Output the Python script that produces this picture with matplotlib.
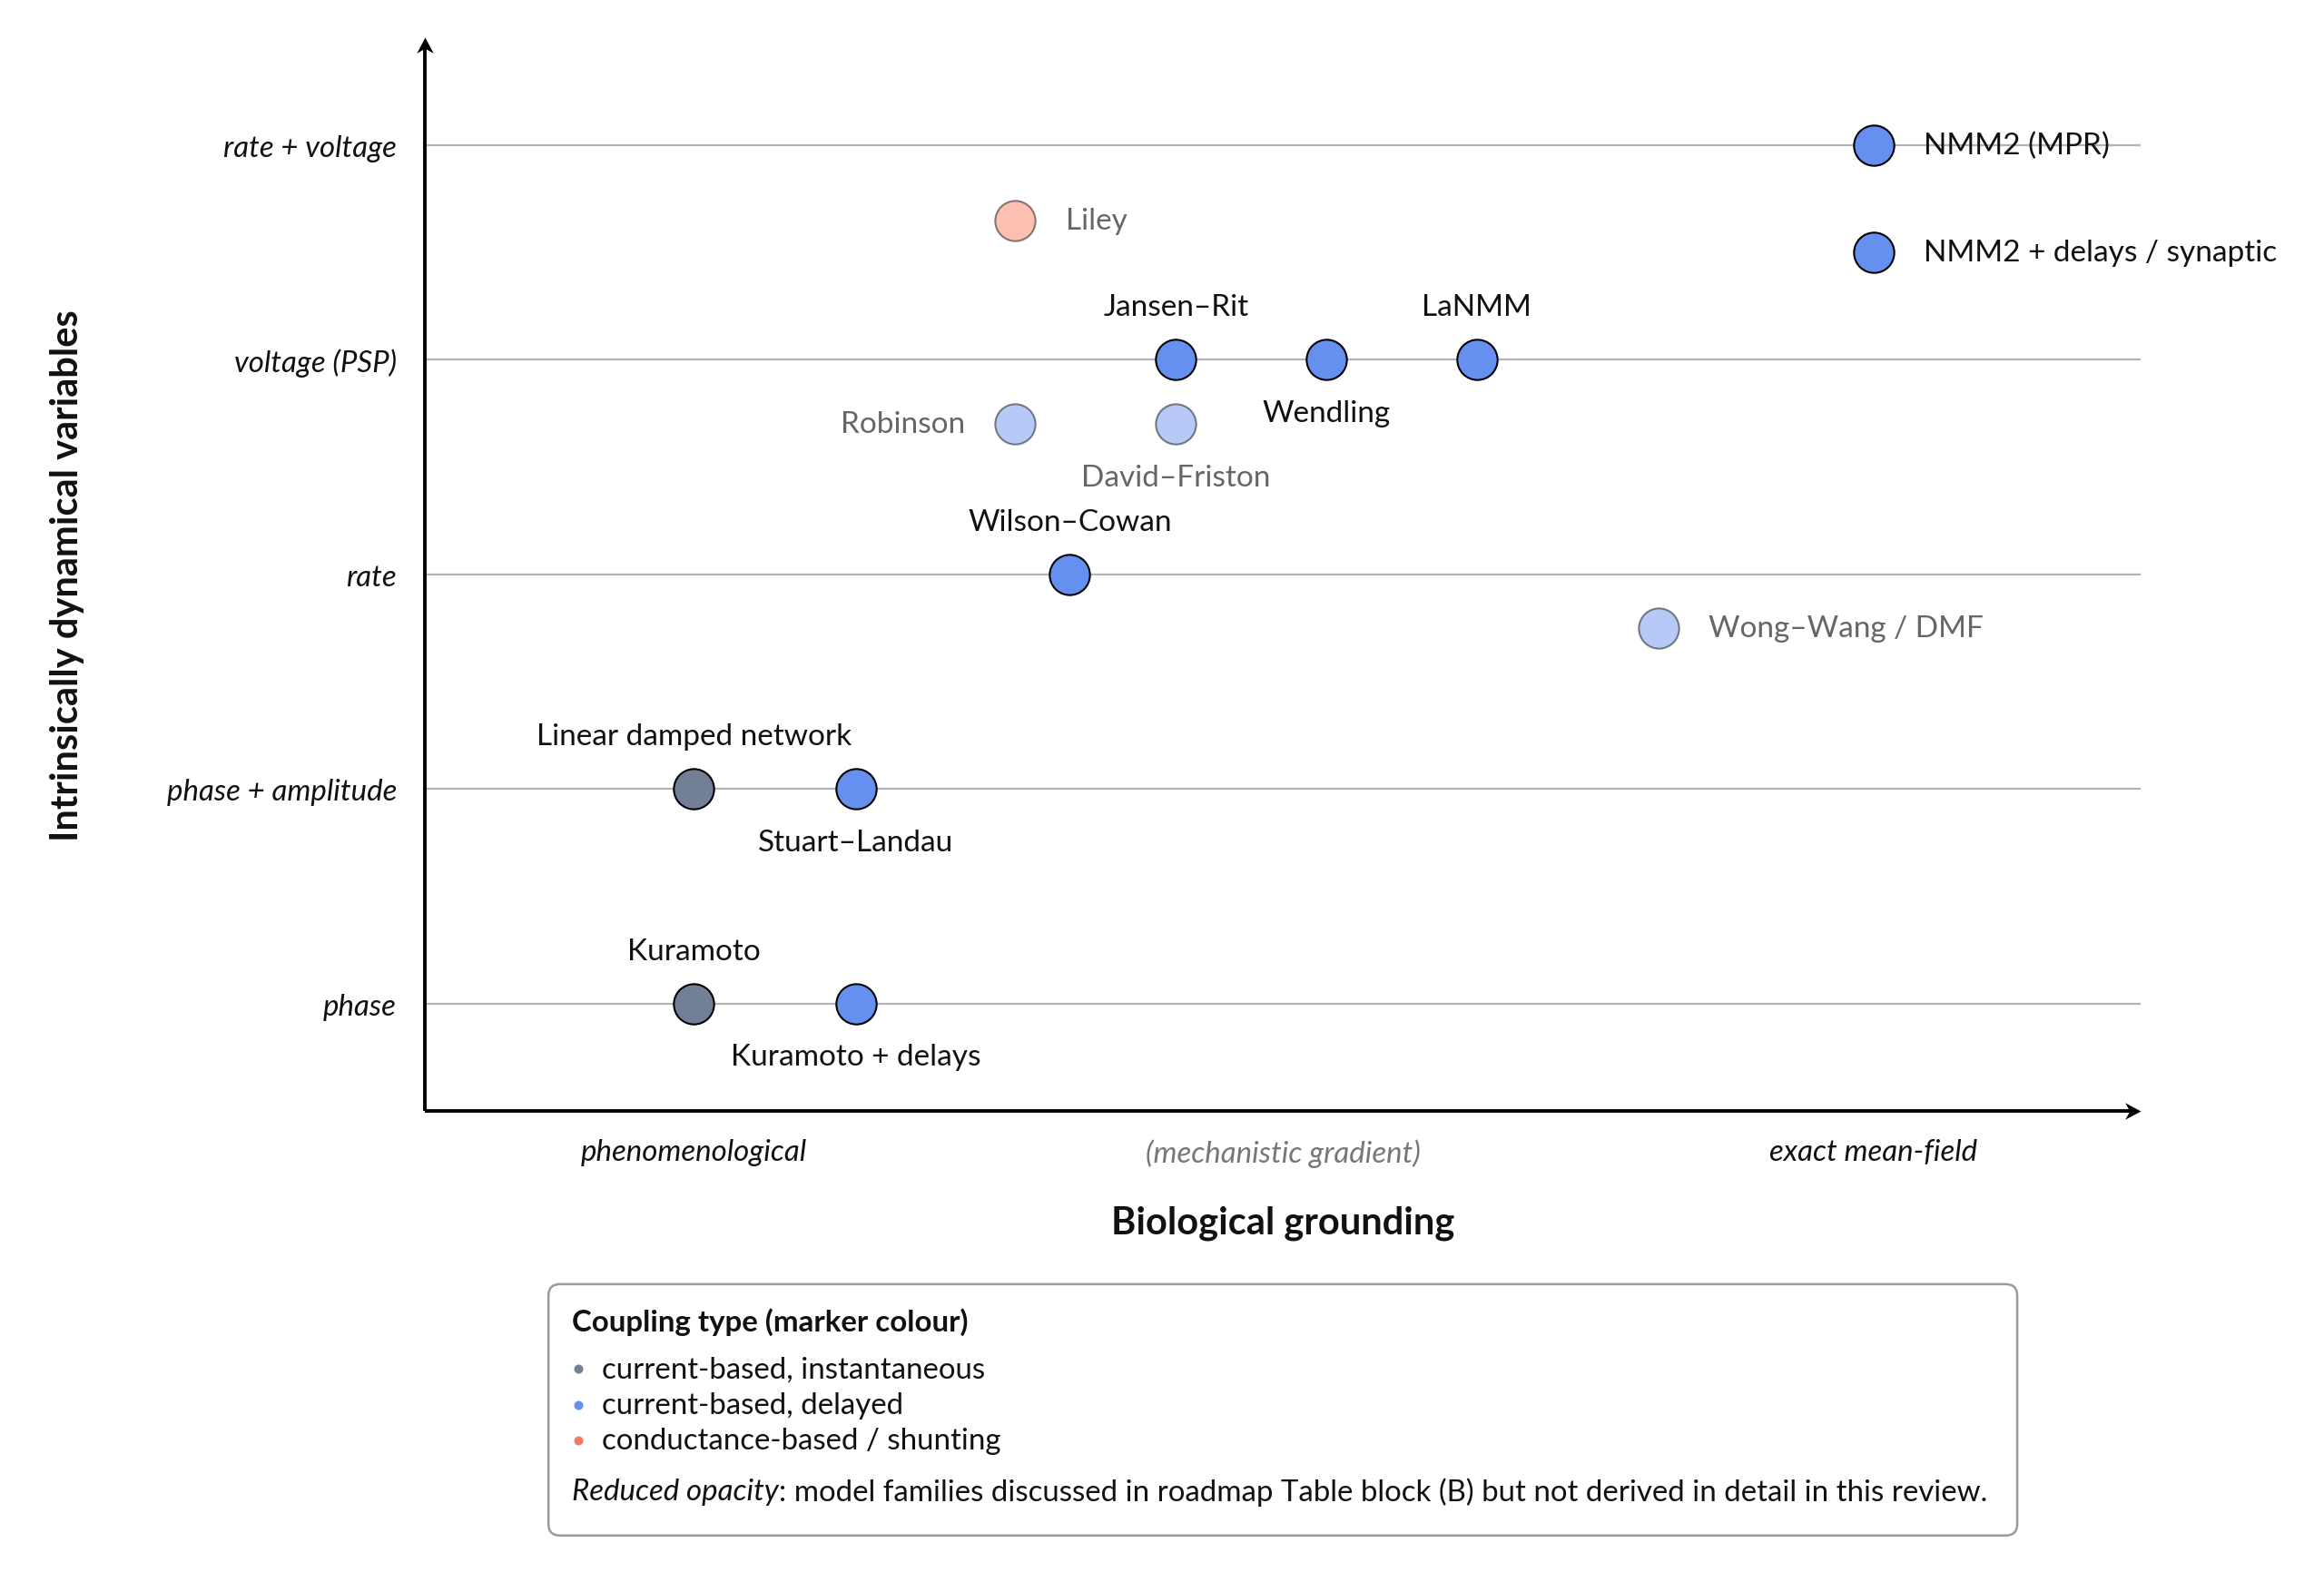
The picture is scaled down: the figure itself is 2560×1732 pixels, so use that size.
import matplotlib
matplotlib.use('Agg')
import matplotlib.pyplot as plt
from matplotlib.patches import FancyBboxPatch
from matplotlib.path import Path
from matplotlib.colors import to_rgba

plt.rcParams['font.family'] = ['Lato', 'DejaVu Sans']

# ---------------- data ----------------
models = ['Kuramoto', 'Kuramoto + delays', 'Linear damped network', 'Stuart–Landau',
          'Wilson–Cowan', 'Robinson', 'Liley', 'Jansen–Rit', 'David–Friston',
          'Wendling', 'LaNMM', 'Wong–Wang / DMF', 'NMM2 (MPR)', 'NMM2 + delays / synaptic']
grounding = [0.10, 0.21, 0.10, 0.21, 0.355, 0.318, 0.318, 0.427, 0.427,
             0.529, 0.631, 0.754, 0.90, 0.90]
variables = [0, 0, 1, 1, 2, 2.7, 3.65, 3, 2.7, 3, 3, 1.75, 4, 3.5]
coupling = ['instantaneous', 'delayed', 'instantaneous', 'delayed', 'delayed', 'delayed',
            'conductance', 'delayed', 'delayed', 'delayed', 'delayed', 'delayed',
            'delayed', 'delayed']
reduced = [False, False, False, False, False, True, True, False, True,
           False, False, True, False, False]
label_side = ['above', 'below', 'above', 'below', 'above', 'left', 'right', 'above',
              'below', 'below', 'above', 'right', 'right', 'right']

y_levels = ['phase', 'phase + amplitude', 'rate', 'voltage (PSP)', 'rate + voltage']
x_tick_pos = [0.1, 0.5, 0.9]
x_tick_labels = ['phenomenological', '(mechanistic gradient)', 'exact mean-field']

coupling_keys = ['instantaneous', 'delayed', 'conductance']
coupling_names = ['current-based, instantaneous', 'current-based, delayed',
                  'conductance-based / shunting']
coupling_colors = {'instantaneous': '#737E97', 'delayed': '#6690F0', 'conductance': '#F9795F'}

# ---------------- figure ----------------
fig = plt.figure(figsize=(12.8, 8.665), dpi=200)
ax = fig.add_axes([0.1830, 0.2930, 0.7380, 0.6825])
ax.set_xlim(-0.082, 1.081)
ax.set_ylim(-0.5, 4.5)

for s in ax.spines.values():
    s.set_visible(False)

# gridlines
for i in range(len(y_levels)):
    ax.axhline(i, color='#B3B3B3', lw=0.8, zorder=1)

# axis lines with stealth-style arrowheads
ax.plot([0, 0.995], [0, 0], transform=ax.transAxes, color='black', lw=1.4,
        solid_capstyle='butt', clip_on=False, zorder=5)
ax.plot([0, 0], [0, 0.992], transform=ax.transAxes, color='black', lw=1.4,
        solid_capstyle='butt', clip_on=False, zorder=5)
head_right = Path([(0, 0), (-1, 0.53), (-0.7, 0), (-1, -0.53), (0, 0)],
                  [Path.MOVETO, Path.LINETO, Path.LINETO, Path.LINETO, Path.CLOSEPOLY])
head_up = Path([(0, 0), (0.53, -1), (0, -0.7), (-0.53, -1), (0, 0)],
               [Path.MOVETO, Path.LINETO, Path.LINETO, Path.LINETO, Path.CLOSEPOLY])
ax.plot([1], [0], transform=ax.transAxes, marker=head_right, ms=12.5, color='black',
        mec='black', mew=0, clip_on=False, zorder=6)
ax.plot([0], [1], transform=ax.transAxes, marker=head_up, ms=12.5, color='black',
        mec='black', mew=0, clip_on=False, zorder=6)

ALPHA = 0.47
for name, x, y, c, red, side in zip(models, grounding, variables, coupling, reduced, label_side):
    base = coupling_colors[c]
    fc = to_rgba(base, ALPHA if red else 1.0)
    ec = to_rgba('black', ALPHA if red else 1.0)
    ax.scatter([x], [y], s=255, facecolor=[fc], edgecolor=[ec], linewidth=0.75, zorder=3)
    tc = '#666666' if red else '#111111'
    if side == 'right':
        off, ha = (20, 0), 'left'
    elif side == 'left':
        off, ha = (-20, 0), 'right'
    elif side == 'above':
        off, ha = (0, 21), 'center'
    else:
        off, ha = (0, -21), 'center'
    ax.annotate(name, (x, y), xytext=off, textcoords='offset points', ha=ha, va='center',
                fontsize=12, color=tc, zorder=4)

ax.set_yticks(range(len(y_levels)))
ax.set_yticklabels(y_levels, fontsize=11.9, style='italic', color='#111111')
ax.set_xticks(x_tick_pos)
ax.set_xticklabels(x_tick_labels, fontsize=11.9, style='italic')
xtl = ax.get_xticklabels()
xtl[0].set_color('#111111')
xtl[1].set_color('#777777')
xtl[2].set_color('#111111')
ax.tick_params(axis='y', length=0, pad=11.3)
ax.tick_params(axis='x', length=0, pad=10.8)

ax.set_xlabel('Biological grounding', fontsize=15, fontweight='bold', color='#111111')
ax.xaxis.set_label_coords(0.5, -0.1035)
ax.xaxis.label.set_va('center')
ax.set_ylabel('Intrinsically dynamical variables', fontsize=15, fontweight='bold', color='#111111')
ax.yaxis.set_label_coords(-0.209, 0.5)
ax.yaxis.label.set_va('center')

# ---------------- legend box ----------------
lax = fig.add_axes([0, 0, 1, 1], zorder=-1)
lax.set_xlim(0, 1)
lax.set_ylim(0, 1)
lax.axis('off')
box = FancyBboxPatch((0.236, 0.0232), 0.632, 0.1598,
                     boxstyle='round,pad=0,rounding_size=0.005',
                     mutation_aspect=2560 / 1733,
                     transform=lax.transAxes, fc='white', ec='#9A9A9A', lw=0.9)
lax.add_patch(box)
LFS = 11.9
lax.text(0.246, 0.1592, 'Coupling type (marker colour)', fontsize=LFS, fontweight='bold',
         va='center', ha='left', color='#111111')
entry_y = [0.1290, 0.1064, 0.0838]
for key, lab, yy in zip(coupling_keys, coupling_names, entry_y):
    lax.plot([0.2488], [yy], 'o', ms=3.6, color=coupling_colors[key], mec='none')
    lax.text(0.259, yy, lab, fontsize=LFS, va='center', ha='left', color='#111111')
t1 = lax.text(0.246, 0.0515, 'Reduced opacity', fontsize=LFS, style='italic',
              va='center', ha='left', color='#111111')
lax.annotate(': model families discussed in roadmap Table block (B) but not derived in detail in this review.',
             xy=(1, 0.5), xycoords=t1, va='center', ha='left', fontsize=LFS, color='#111111')

fig.savefig('out.png', dpi=200)
